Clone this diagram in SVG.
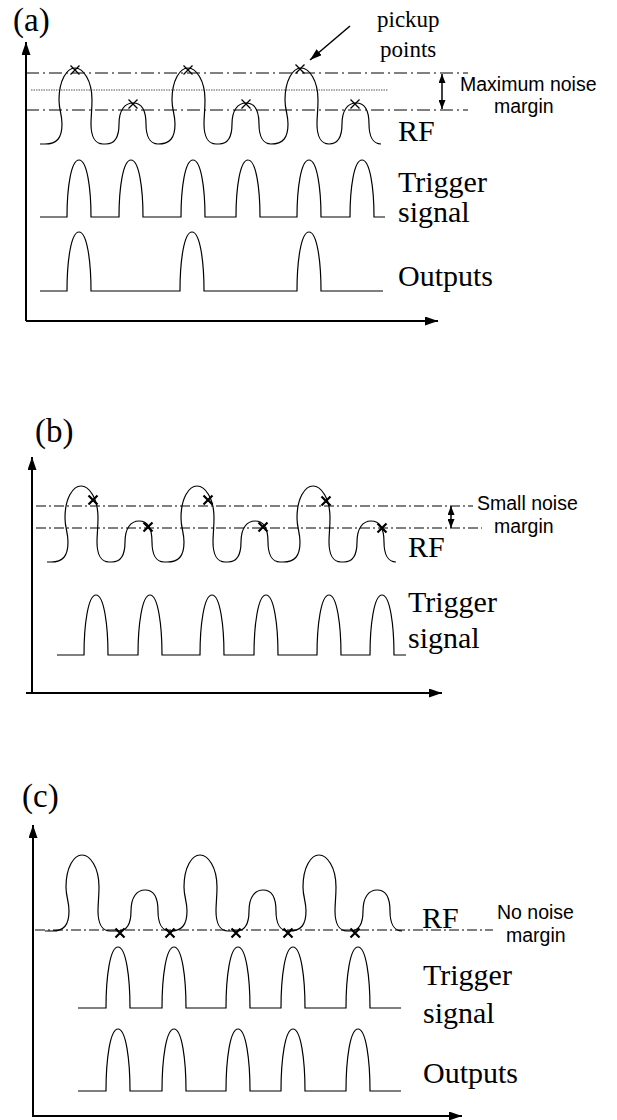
<svg xmlns="http://www.w3.org/2000/svg" width="617" height="1120" viewBox="0 0 617 1120">
<style>
.ax{stroke:#000;stroke-width:2;fill:none}
.w{stroke:#000;stroke-width:1.2;fill:none}
.dd{stroke:#000;stroke-width:1;fill:none;stroke-dasharray:13 4 2 4}
.dd2{stroke:#000;stroke-width:1;fill:none;stroke-dasharray:10 3 2 3}
.dot{stroke:#555;stroke-width:1;fill:none;stroke-dasharray:1.5 1}
.ar{stroke:#000;stroke-width:1.5;fill:none}
.xa{stroke:#000;stroke-width:1.3;fill:none}
.xb{stroke:#000;stroke-width:2.2;fill:none}
.t{font-family:"Liberation Serif","Times New Roman",serif;font-size:30px;fill:#000}
.p{font-family:"Liberation Serif","Times New Roman",serif;font-size:33px;fill:#000}
.s{font-family:"Liberation Sans",Arial,sans-serif;font-size:19.5px;fill:#000}
.k{font-family:"Liberation Serif","Times New Roman",serif;font-size:23px;fill:#000}
</style>
<defs>
<marker id="axh" viewBox="0 0 13 9" refX="13" refY="4.5" markerWidth="13" markerHeight="9" markerUnits="userSpaceOnUse" orient="auto-start-reverse"><path d="M0,0 L13,4.5 L0,9 z" fill="#000"/></marker>
<marker id="sh" viewBox="0 0 9 7" refX="9" refY="3.5" markerWidth="9" markerHeight="7" markerUnits="userSpaceOnUse" orient="auto-start-reverse"><path d="M0,0 L9,3.5 L0,7 z" fill="#000"/></marker>
<marker id="ph" viewBox="0 0 12 8" refX="12" refY="4" markerWidth="12" markerHeight="8" markerUnits="userSpaceOnUse" orient="auto"><path d="M0,0 L12,4 L0,8 z" fill="#000"/></marker>
<path id="x" d="M-4.5,-4.5 L4.5,4.5 M-4.5,4.5 L4.5,-4.5"/>
</defs>

<g id="panel-a">
  <text class="p" x="13" y="31">(a)</text>
  <path class="dd" d="M26,73 H468 M26,110 H468"/>
  <path class="dot" d="M31,90 H388"/>
  <g id="rf-a">
    <path class="w" d="M40,144 H45 c12,0 17,-6 17,-20 c0,-10 -3,-14 -3,-24 c0,-20 8,-32 16,-32 c8,0 17,12 17,32 c0,10 -1,16 -1,24 c0,12 4,20 12,20 H106 c10,0 13,-8 13,-20 c0,-14 6,-21 14,-21 c8,0 13,7 13,21 c0,12 4,20 12,20 c12,0 17,-6 17,-20 c0,-10 -3,-14 -3,-24 c0,-20 8,-32 16,-32 c8,0 17,12 17,32 c0,10 -1,16 -1,24 c0,12 4,20 12,20 H219 c10,0 13,-8 13,-20 c0,-14 6,-21 14,-21 c8,0 13,7 13,21 c0,12 4,20 12,20 c12,0 17,-6 17,-20 c0,-10 -3,-14 -3,-24 c0,-20 8,-32 16,-32 c8,0 17,12 17,32 c0,10 -1,16 -1,24 c0,12 4,20 12,20 c10,0 13,-8 13,-20 c0,-14 6,-21 14,-21 c8,0 13,7 13,21 c0,12 4,20 12,20"/>
    <use href="#x" class="xa" x="75" y="70"/>
    <use href="#x" class="xa" x="133" y="104"/>
    <use href="#x" class="xa" x="188" y="70"/>
    <use href="#x" class="xa" x="246" y="104"/>
    <use href="#x" class="xa" x="300" y="69"/>
    <use href="#x" class="xa" x="355" y="104"/>
  </g>
  <path id="trig-a" class="w" d="M40,217 H67 c0,-29 4,-57 12,-57 c8,0 12,28 12,57 H119 c0,-29 4,-57 12,-57 c8,0 12,28 12,57 H181 c0,-29 4,-57 12,-57 c8,0 12,28 12,57 H236 c0,-29 4,-57 12,-57 c8,0 12,28 12,57 H297 c0,-29 4,-57 12,-57 c8,0 12,28 12,57 H350 c0,-29 4,-57 12,-57 c8,0 12,28 12,57 H385"/>
  <path id="out-a" class="w" d="M40,291 H67 c0,-30 4,-59 12,-59 c8,0 12,29 12,59 H180 c0,-30 4,-59 12,-59 c8,0 12,29 12,59 H297 c0,-30 4,-59 12,-59 c8,0 12,29 12,59 H383"/>
  <text class="t" x="398" y="141">RF</text>
  <text class="t" x="398" y="192">Trigger</text>
  <text class="t" x="398" y="222">signal</text>
  <text class="t" x="398" y="286">Outputs</text>
  <text class="k" x="377" y="27">pickup</text>
  <text class="k" x="380" y="57">points</text>
  <text class="s" x="460" y="91">Maximum noise</text>
  <text class="s" x="494" y="113">margin</text>
</g>

<g id="panel-b">
  <text class="p" x="35" y="442">(b)</text>
  <path class="dd2" d="M36,506 H473 M36,528 H482"/>
  <g id="rf-b">
    <path class="w" d="M47,562 H51 c12,0 17,-6 17,-20 c0,-10 -3,-14 -3,-24 c0,-20 8,-32 16,-32 c8,0 17,12 17,32 c0,10 -1,16 -1,24 c0,12 4,20 12,20 H112 c10,0 13,-8 13,-20 c0,-14 6,-21 14,-21 c8,0 13,7 13,21 c0,12 4,20 12,20 H167 c12,0 17,-6 17,-20 c0,-10 -3,-14 -3,-24 c0,-20 8,-32 16,-32 c8,0 17,12 17,32 c0,10 -1,16 -1,24 c0,12 4,20 12,20 H228 c10,0 13,-8 13,-20 c0,-14 6,-21 14,-21 c8,0 13,7 13,21 c0,12 4,20 12,20 H283 c12,0 17,-6 17,-20 c0,-10 -3,-14 -3,-24 c0,-20 8,-32 16,-32 c8,0 17,12 17,32 c0,10 -1,16 -1,24 c0,12 4,20 12,20 H344 c10,0 13,-8 13,-20 c0,-14 6,-21 14,-21 c8,0 13,7 13,21 c0,12 4,20 12,20"/>
    <use href="#x" class="xb" x="93" y="500"/>
    <use href="#x" class="xb" x="148" y="527"/>
    <use href="#x" class="xb" x="208" y="500"/>
    <use href="#x" class="xb" x="263" y="527"/>
    <use href="#x" class="xb" x="326" y="501"/>
    <use href="#x" class="xb" x="382" y="528"/>
  </g>
  <path id="trig-b" class="w" d="M57,655 H84 c0,-30 4,-60 12,-60 c8,0 12,30 12,60 H138 c0,-30 4,-60 12,-60 c8,0 12,30 12,60 H200 c0,-30 4,-60 12,-60 c8,0 12,30 12,60 H254 c0,-30 4,-60 12,-60 c8,0 12,30 12,60 H317 c0,-30 4,-60 12,-60 c8,0 12,30 12,60 H370 c0,-30 4,-60 12,-60 c8,0 12,30 12,60 H406"/>
  <text class="t" x="408" y="557">RF</text>
  <text class="t" x="408" y="612">Trigger</text>
  <text class="t" x="408" y="648">signal</text>
  <text class="s" x="477" y="510">Small noise</text>
  <text class="s" x="494" y="533">margin</text>
</g>

<g id="panel-c">
  <text class="p" x="22" y="807">(c)</text>
  <path class="dd2" d="M35,930 H493"/>
  <g id="rf-c">
    <path class="w" d="M45,931 H52 c12,0 17,-6 17,-20 c0,-10 -3,-14 -3,-24 c0,-20 8,-32 16,-32 c8,0 17,12 17,32 c0,10 -1,16 -1,24 c0,12 4,20 12,20 H118 c10,0 13,-8 13,-20 c0,-14 6,-21 14,-21 c8,0 13,7 13,21 c0,12 4,20 12,20 c12,0 17,-6 17,-20 c0,-10 -3,-14 -3,-24 c0,-20 8,-32 16,-32 c8,0 17,12 17,32 c0,10 -1,16 -1,24 c0,12 4,20 12,20 H236 c10,0 13,-8 13,-20 c0,-14 6,-21 14,-21 c8,0 13,7 13,21 c0,12 4,20 12,20 H289 c12,0 17,-6 17,-20 c0,-10 -3,-14 -3,-24 c0,-20 8,-32 16,-32 c8,0 17,12 17,32 c0,10 -1,16 -1,24 c0,12 4,20 12,20 H350 c10,0 13,-8 13,-20 c0,-14 6,-21 14,-21 c8,0 13,7 13,21 c0,12 4,20 12,20"/>
    <use href="#x" class="xb" x="120" y="933"/>
    <use href="#x" class="xb" x="170" y="933"/>
    <use href="#x" class="xb" x="236" y="933"/>
    <use href="#x" class="xb" x="288" y="933"/>
    <use href="#x" class="xb" x="355" y="933"/>
  </g>
  <path id="trig-c" class="w" d="M78,1008 H106 c0,-31 4,-61 12,-61 c8,0 12,30 12,61 H162 c0,-31 4,-61 12,-61 c8,0 12,30 12,61 H226 c0,-31 4,-61 12,-61 c8,0 12,30 12,61 H281 c0,-31 4,-61 12,-61 c8,0 12,30 12,61 H346 c0,-31 4,-61 12,-61 c8,0 12,30 12,61 H401"/>
  <path id="out-c" class="w" d="M78,1091 H106 c0,-31 4,-62 12,-62 c8,0 12,31 12,62 H162 c0,-31 4,-62 12,-62 c8,0 12,31 12,62 H226 c0,-31 4,-62 12,-62 c8,0 12,31 12,62 H281 c0,-31 4,-62 12,-62 c8,0 12,31 12,62 H346 c0,-31 4,-62 12,-62 c8,0 12,31 12,62 H401"/>
  <text class="t" x="422" y="928">RF</text>
  <text class="t" x="423" y="985">Trigger</text>
  <text class="t" x="423" y="1023">signal</text>
  <text class="t" x="423" y="1083">Outputs</text>
  <text class="s" x="497" y="919">No noise</text>
  <text class="s" x="506" y="942">margin</text>
</g>

<g id="connectors">
  <path class="ax" d="M26,321 V42" marker-end="url(#axh)"/>
  <path class="ax" d="M26,321 H438" marker-end="url(#axh)"/>
  <path class="ax" d="M32,693 V457" marker-end="url(#axh)"/>
  <path class="ax" d="M26,693 H442" marker-end="url(#axh)"/>
  <path class="ax" d="M33,1116 V825" marker-end="url(#axh)"/>
  <path class="ax" d="M32,1116 H462" marker-end="url(#axh)"/>
  <path class="ar" d="M350,26 L310,60" marker-end="url(#ph)"/>
  <path class="ar" d="M442,74 V109" marker-start="url(#sh)" marker-end="url(#sh)"/>
  <path class="ar" d="M451,506 V528" marker-start="url(#sh)" marker-end="url(#sh)"/>
</g>
</svg>
